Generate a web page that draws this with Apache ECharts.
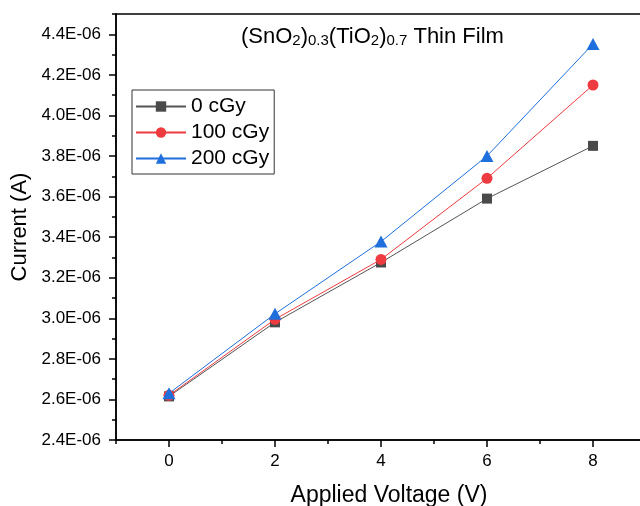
<!DOCTYPE html>
<html>
<head>
<meta charset="utf-8">
<script src="https://cdn.jsdelivr.net/npm/echarts@6/dist/echarts.min.js"></script>
<style>
html,body{margin:0;padding:0;background:#fff;overflow:hidden;width:640px;height:506px;}
#chart{width:647px;height:506px;}
</style>
</head>
<body>
<div id="chart"></div>
<script>
// Data
var voltages = [0, 2, 4, 6, 8];
var seriesNames = ['0 cGy', '100 cGy', '200 cGy'];
var current0 = [2.615e-6, 2.98e-6, 3.275e-6, 3.59e-6, 3.85e-6];
var current100 = [2.62e-6, 2.995e-6, 3.29e-6, 3.69e-6, 4.15e-6];
var current200 = [2.63e-6, 3.022e-6, 3.378e-6, 3.80e-6, 4.352e-6];
// Ticks
var xMajorTicks = [0, 2, 4, 6, 8];
var xMinorTicks = [-1, 1, 3, 5, 7];
var yMajorTicks = [2.4e-6, 2.6e-6, 2.8e-6, 3.0e-6, 3.2e-6, 3.4e-6, 3.6e-6, 3.8e-6, 4.0e-6, 4.2e-6, 4.4e-6];
var yMinorTicks = [2.5e-6, 2.7e-6, 2.9e-6, 3.1e-6, 3.3e-6, 3.5e-6, 3.7e-6, 3.9e-6, 4.1e-6, 4.3e-6, 4.5e-6];

var FONT = '"Liberation Sans", Arial, sans-serif';
var chart = echarts.init(document.getElementById('chart'), null, {renderer: 'canvas'});

function pairs(ys) { return voltages.map(function (v, i) { return [v, ys[i]]; }); }

var option = {
  animation: false,
  backgroundColor: '#ffffff',
  textStyle: {fontFamily: FONT, color: '#000'},
  title: {
    left: 241, top: 22, padding: 0,
    text: '{m|(SnO}{s|2}{m|)}{s|0.3}{m|(TiO}{s|2}{m|)}{s|0.7}{m| Thin Film}',
    textStyle: {
      fontWeight: 'normal',
      rich: {
        m: {fontSize: 22, lineHeight: 26, fontWeight: 'normal', fontFamily: FONT, color: '#000', verticalAlign: 'bottom'},
        s: {fontSize: 15, lineHeight: 6, fontWeight: 'normal', fontFamily: FONT, color: '#000', verticalAlign: 'bottom'}
      }
    }
  },
  legend: {
    orient: 'vertical', left: 132, top: 90,
    padding: [6, 5, 5, 3],
    borderColor: '#333', borderWidth: 1,
    itemWidth: 50, itemHeight: 13, itemGap: 5,
    textStyle: {fontSize: 21, lineHeight: 21, fontFamily: FONT, color: '#000'},
    data: seriesNames
  },
  grid: {
    left: 116, top: 14, width: 530, height: 426,
    containLabel: false, outerBoundsMode: 'none',
    show: true, borderColor: '#000', borderWidth: 1.5, backgroundColor: 'transparent'
  },
  xAxis: [{
    type: 'value', position: 'bottom', min: -1, max: 9,
    name: 'Applied Voltage (V)', nameLocation: 'middle', nameGap: 44,
    nameTextStyle: {fontSize: 23, fontFamily: FONT, color: '#000', padding: [0, 0, 0, 16]},
    axisLine: {show: true, onZero: false, lineStyle: {color: '#000', width: 1.5}},
    axisTick: {show: true, customValues: xMajorTicks, length: 7, lineStyle: {color: '#000', width: 1.5}},
    axisLabel: {show: true, customValues: xMajorTicks, margin: 13, fontSize: 17, fontFamily: FONT, color: '#000'},
    splitLine: {show: false}
  }, {
    type: 'value', position: 'bottom', min: -1, max: 9,
    axisLine: {show: false, onZero: false},
    axisTick: {show: true, customValues: xMinorTicks, length: 4, lineStyle: {color: '#000', width: 1.5}},
    axisLabel: {show: false},
    splitLine: {show: false}
  }],
  yAxis: [{
    type: 'value', position: 'left', min: 2.4e-6, max: 4.5e-6,
    name: 'Current (A)', nameLocation: 'middle', nameGap: 81,
    nameTextStyle: {fontSize: 22, fontFamily: FONT, color: '#000'},
    axisLine: {show: true, onZero: false, lineStyle: {color: '#000', width: 1.5}},
    axisTick: {show: true, customValues: yMajorTicks, length: 7, lineStyle: {color: '#000', width: 1.5}},
    axisLabel: {
      show: true, customValues: yMajorTicks, margin: 15, fontSize: 17, fontFamily: FONT, color: '#000',
      formatter: function (v) { return (v * 1e6).toFixed(1) + 'E-06'; }
    },
    splitLine: {show: false}
  }, {
    type: 'value', position: 'left', min: 2.4e-6, max: 4.5e-6,
    axisLine: {show: false, onZero: false},
    axisTick: {show: true, customValues: yMinorTicks, length: 4, lineStyle: {color: '#000', width: 1.5}},
    axisLabel: {show: false},
    splitLine: {show: false}
  }],
  series: [{
    name: seriesNames[0], type: 'line', xAxisIndex: 0, yAxisIndex: 0,
    data: pairs(current0), symbol: 'rect', symbolSize: 10,
    itemStyle: {color: '#4a4a4a'}, lineStyle: {color: '#555555', width: 1}
  }, {
    name: seriesNames[1], type: 'line', xAxisIndex: 0, yAxisIndex: 0,
    data: pairs(current100), symbol: 'circle', symbolSize: 11,
    itemStyle: {color: '#ee3b3f'}, lineStyle: {color: '#ee3b3f', width: 1}
  }, {
    name: seriesNames[2], type: 'line', xAxisIndex: 0, yAxisIndex: 0,
    data: pairs(current200), symbol: 'triangle', symbolSize: [13, 12],
    itemStyle: {color: '#1f6fdd'}, lineStyle: {color: '#1f6fdd', width: 1}
  }]
};
chart.setOption(option);
</script>
</body>
</html>
